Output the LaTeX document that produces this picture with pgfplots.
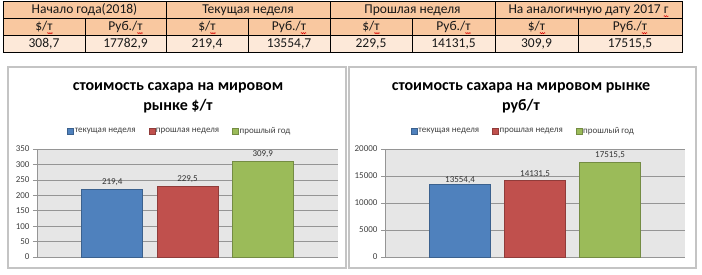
\documentclass[border=0pt]{standalone}
\usepackage{pgfplots}
\pgfplotsset{compat=1.18}
\usetikzlibrary{calc,decorations.pathmorphing}
\usepackage{fontspec}
\setmainfont{Carlito}
\definecolor{hdr}{HTML}{F9C8A0}
\definecolor{valc}{HTML}{FDE9D9}
\definecolor{bblue}{HTML}{4F81BD}
\definecolor{bred}{HTML}{C0504D}
\definecolor{bgreen}{HTML}{9BBB59}
\definecolor{plotbg}{HTML}{E6E6E6}
\definecolor{gridc}{HTML}{959595}
\definecolor{tickc}{HTML}{404040}
\definecolor{framec}{HTML}{C4C4C4}
\pgfplotsset{
  chartstyle/.style={
    scale only axis, anchor=south west, height=108pt,
    xmin=0, xmax=4, ymin=0, xtick=\empty,
    axis background/.style={fill=plotbg},
    ymajorgrids, grid style={gridc, line width=0.6pt},
    axis x line*=bottom, axis y line*=left,
    axis line style={gridc, line width=0.6pt},
    tick align=outside, major tick length=4pt,
    tick style={gridc, line width=0.6pt},
    yticklabel style={font=\fontsize{9}{10}\selectfont, color=tickc},
    /pgf/number format/assume math mode=true,
    /pgf/number format/1000 sep={},
    scaled y ticks=false,
    legend columns=3,
    legend style={draw=none, fill=none, font=\fontsize{9}{10}\selectfont, text=tickc,
      /tikz/every even column/.append style={column sep=12pt},
      nodes={inner sep=1pt}},
    legend image code/.code={\draw[##1, line width=0.4pt] (0pt,-3pt) rectangle (6pt,3pt);},
  },
  barplot/.style={ybar, bar width=61pt, bar shift=0pt, line width=0.6pt,
    fill=#1, draw=#1!75!black,
    every node near coord/.append style={font=\fontsize{9}{10}\selectfont, color=black!80, anchor=center, yshift=7pt}},
}
\tikzset{squig/.style={red!85!black, line width=0.5pt, decorate, decoration={snake, amplitude=0.6pt, segment length=2pt}}}
\begin{document}
\begin{tikzpicture}
\path[use as bounding box] (0,0) rectangle (702pt,-274pt);
\begin{scope}[x=1pt,y=-1pt]
  % table
  \fill[hdr] (3,1) rectangle (682,35);
  \fill[valc] (3,35) rectangle (682,52);
  \draw[black, line width=0.9pt] (3,1) rectangle (682,52);
  \draw[black, line width=0.9pt] (3,18) -- (682,18) (3,35) -- (682,35);
  \foreach \x in {166,330,495} {\draw[black, line width=0.9pt] (\x,1) -- (\x,52);}
  \foreach \x in {85,248,412,578} {\draw[black, line width=0.9pt] (\x,18) -- (\x,52);}
  \begin{scope}[every node/.style={font=\fontsize{13.5}{15}\selectfont, color=black!90, inner sep=0pt}]
    \node at (84.5,10) {Начало года(2018)};
    \node at (248,10) {Текущая неделя};
    \node at (412.5,10) {Прошлая неделя};
    \node (h4) at (588.5,10) {На аналогичную дату 2017 г};
    \node (s1) at (44,27) {\$/т};
    \node (s2) at (125.5,27) {Руб./т};
    \node (s3) at (207,27) {\$/т};
    \node (s4) at (289,27) {Руб./т};
    \node (s5) at (371,27) {\$/т};
    \node (s6) at (453.5,27) {Руб./т};
    \node (s7) at (536.5,27) {\$/т};
    \node (s8) at (630,27) {Руб./т};
    \node at (44,44) {308,7};
    \node at (125.5,44) {17782,9};
    \node at (207,44) {219,4};
    \node at (289,44) {13554,7};
    \node at (371,44) {229,5};
    \node at (453.5,44) {14131,5};
    \node at (536.5,44) {309,9};
    \node at (630,44) {17515,5};
  \end{scope}
  \foreach \n in {s1,s2,s3,s4,s5,s6,s7,s8} {
    \draw[squig] ($(\n.east)+(-5.5,6.2)$) -- ($(\n.east)+(0,6.2)$);
  }
  \draw[squig] ($(h4.east)+(-5,6.2)$) -- ($(h4.east)+(0,6.2)$);
  % chart frames
  \draw[framec, line width=1.5pt] (8,67) rectangle (346,268);
  \draw[framec, line width=1.5pt] (349,67) rectangle (696,268);
  % titles
  \node[font=\bfseries\fontsize{16}{20}\selectfont, align=center] at (178,98) {стоимость сахара на мировом\\рынке \$/т};
  \node[font=\bfseries\fontsize{16}{20}\selectfont, align=center] at (521,98) {стоимость сахара на мировом рынке\\руб/т};
\end{scope}

\begin{axis}[chartstyle, at={(37pt,-257pt)}, width=301pt, ymax=350, ytick={0,50,...,350},
  legend style={at={(0.473,1.167)}, anchor=center}]
  \addplot[barplot=bblue, nodes near coords={219,4}] coordinates {(1,219.4)};
  \addplot[barplot=bred, nodes near coords={229,5}] coordinates {(2,229.5)};
  \addplot[barplot=bgreen, nodes near coords={309,9}] coordinates {(3,309.9)};
  \legend{текущая неделя, прошлая неделя, прошлый год}
\end{axis}

\begin{axis}[chartstyle, at={(385pt,-257pt)}, width=300pt, ymax=20000, ytick={0,5000,...,20000},
  legend style={at={(0.46,1.167)}, anchor=center}]
  \addplot[barplot=bblue, nodes near coords={13554,4}, every node near coord/.append style={yshift=-3.5pt}] coordinates {(1,13554.4)};
  \addplot[barplot=bred, nodes near coords={14131,5}] coordinates {(2,14131.5)};
  \addplot[barplot=bgreen, nodes near coords={17515,5}] coordinates {(3,17515.5)};
  \legend{текущая неделя, прошлая неделя, прошлый год}
\end{axis}
\end{tikzpicture}
\end{document}
